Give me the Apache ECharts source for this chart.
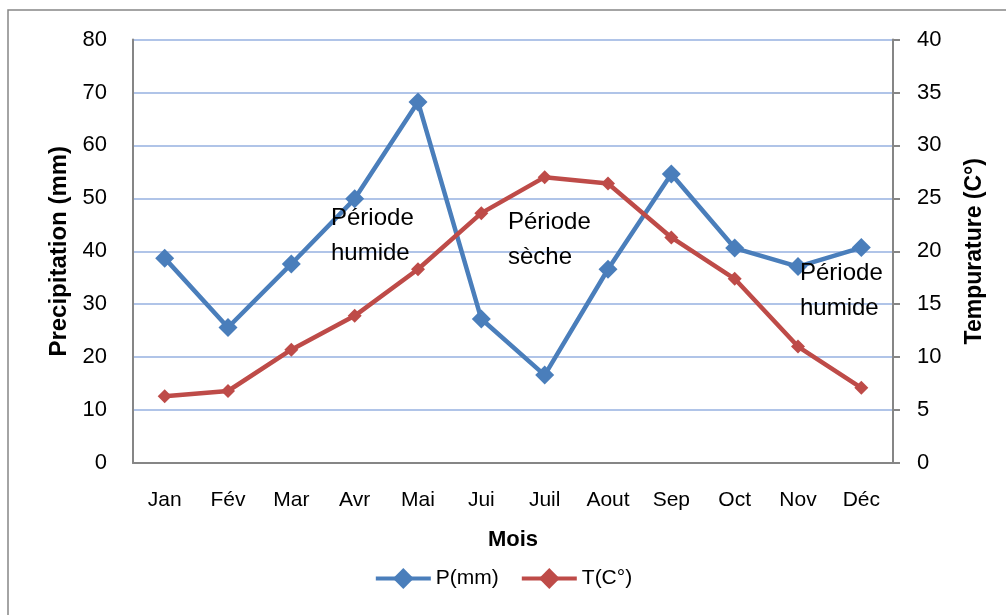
<!DOCTYPE html>
<html><head><meta charset="utf-8">
<script src="https://cdn.jsdelivr.net/npm/echarts@6/dist/echarts.min.js"></script>
<style>html,body{margin:0;padding:0;background:#fff}#c{width:1006px;height:615px}</style>
</head><body><div id="c"></div>
<script>
const months = ['Jan','Fév','Mar','Avr','Mai','Jui','Juil','Aout','Sep','Oct','Nov','Déc'];
const precipitation = [38.7, 25.6, 37.6, 49.9, 68.2, 27.2, 16.6, 36.6, 54.6, 40.6, 37.1, 40.7];
const temperature = [6.3, 6.8, 10.7, 13.9, 18.3, 23.6, 27.0, 26.4, 21.3, 17.4, 11.0, 7.1];
const seriesNames = ['P(mm)', 'T(C°)'];
const annotations = [
  {text: 'Période\nhumide', x: 331, y: 201},
  {text: 'Période\nsèche', x: 508, y: 205},
  {text: 'Période\nhumide', x: 800, y: 256}
];
const FONT = '"Liberation Sans", Arial, sans-serif';
const chart = echarts.init(document.getElementById('c'));
chart.setOption({
  animation: false,
  textStyle: {fontFamily: FONT},
  grid: {left: 133, right: 113, top: 39.5, bottom: 152},
  legend: {
    bottom: 21, left: 'center', itemWidth: 55, itemHeight: 26, itemGap: 21,
    lineStyle: {width: 4},
    textStyle: {fontSize: 21, color: '#000', fontFamily: FONT},
    data: seriesNames
  },
  xAxis: {
    type: 'category', data: months, boundaryGap: true,
    name: 'Mois', nameLocation: 'middle', nameGap: 66,
    nameTextStyle: {fontSize: 22, fontWeight: 'bold', color: '#000'},
    axisLine: {lineStyle: {color: '#868686', width: 2}},
    axisTick: {show: false},
    axisLabel: {fontSize: 21, color: '#000', margin: 27}
  },
  yAxis: [{
    type: 'value', min: 0, max: 80, interval: 10,
    name: 'Precipitation (mm)', nameLocation: 'middle', nameGap: 58, nameRotate: 90,
    nameTextStyle: {fontSize: 24, fontWeight: 'bold', color: '#000'},
    axisLine: {show: true, lineStyle: {color: '#868686', width: 2}},
    axisTick: {show: false},
    axisLabel: {fontSize: 22, color: '#000', margin: 26},
    splitLine: {lineStyle: {color: '#b0c4e8', width: 2}}
  }, {
    type: 'value', min: 0, max: 40, interval: 5, position: 'right',
    name: 'Tempurature (C°)', nameLocation: 'middle', nameGap: 70, nameRotate: 90,
    nameTextStyle: {fontSize: 23, fontWeight: 'bold', color: '#000'},
    axisLine: {show: true, lineStyle: {color: '#868686', width: 2}},
    axisTick: {show: true, length: 7, lineStyle: {color: '#868686', width: 2}},
    axisLabel: {fontSize: 22, color: '#000', margin: 24},
    splitLine: {show: false}
  }],
  series: [{
    name: seriesNames[0], type: 'line', yAxisIndex: 0, data: precipitation,
    symbol: 'diamond', symbolSize: 19,
    lineStyle: {color: '#4a7ebb', width: 4.5},
    itemStyle: {color: '#4a7ebb'}
  }, {
    name: seriesNames[1], type: 'line', yAxisIndex: 1, data: temperature,
    symbol: 'diamond', symbolSize: 14,
    lineStyle: {color: '#be4b48', width: 4.5},
    itemStyle: {color: '#be4b48'}
  }],
  graphic: [{
    type: 'rect', shape: {x: 8, y: 10, width: 1100, height: 700},
    style: {fill: 'none', stroke: '#868686', lineWidth: 1.5}, silent: true, z: -10
  }].concat(annotations.map(a => ({
    type: 'text', x: a.x, y: a.y, z: 100,
    style: {text: a.text, fill: '#000', font: '24px ' + FONT, lineHeight: 35}
  })))
});
</script></body></html>
